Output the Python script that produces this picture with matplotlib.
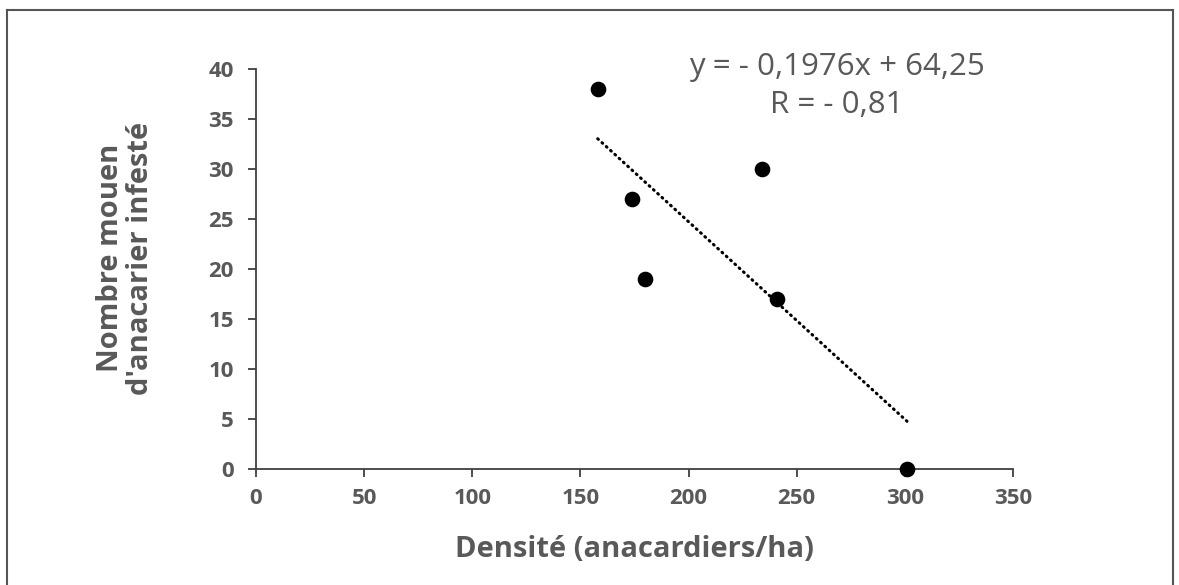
import numpy as np
import matplotlib.pyplot as plt
from matplotlib.lines import Line2D

# densité (anacardiers/ha) et nombre moyen d'anacardiers infestés
densite = [158, 174, 180, 234, 241, 301]
infestes = [38, 27, 19, 30, 17, 0]

# droite de tendance
pente = -0.1976
ordonnee = 64.25
equation = "y = - 0,1976x + 64,25"
correlation = "R = - 0,81"

x_ticks = [0, 50, 100, 150, 200, 250, 300, 350]
y_ticks = [0, 5, 10, 15, 20, 25, 30, 35, 40]

gris = '#595959'
plt.rcParams['font.family'] = ['Open Sans', 'DejaVu Sans']

W, H = 1179, 585
fig = plt.figure(figsize=(W / 100, H / 100), dpi=100)
ax = fig.add_axes([0.2171, 0.1983, 0.6421, 0.6837])

ax.scatter(densite, infestes, s=105, color='black', zorder=3, clip_on=False)

xt = np.array([min(densite), max(densite)])
ax.plot(xt, pente * xt + ordonnee, color='black', lw=2.2,
        linestyle=(0, (0.3, 1.6)), dash_capstyle='round', zorder=2)

fig.text(837 / W, 1 - 67 / H, equation, ha='center', va='center',
         fontsize=22.5, color=gris)
fig.text(837 / W, 1 - 105 / H, correlation, ha='center', va='center',
         fontsize=22.5, color=gris)

ax.set_xlim(0, 350)
ax.set_ylim(0, 40)
ax.set_xticks(x_ticks)
ax.set_yticks(y_ticks)
ax.tick_params(axis='both', direction='out', length=6, width=1.3,
               color='#404040', labelsize=16, labelcolor=gris)
ax.tick_params(axis='x', pad=8)
ax.tick_params(axis='y', pad=10)
for lbl in ax.get_xticklabels() + ax.get_yticklabels():
    lbl.set_fontweight('bold')

for side in ['top', 'right']:
    ax.spines[side].set_visible(False)
for side in ['left', 'bottom']:
    ax.spines[side].set_color('#404040')
    ax.spines[side].set_linewidth(1.3)

ax.set_xlabel("Densité (anacardiers/ha)", fontsize=21, fontweight='bold',
              color=gris)
ax.set_ylabel("Nombre mouen\nd'anacarier infesté", fontsize=21,
              fontweight='bold', color=gris, linespacing=1.05)
ax.xaxis.set_label_coords(0.5, -0.165)
ax.yaxis.set_label_coords(-0.172, 0.527)
ax.yaxis.label.set_va('center')

# cadre autour du graphique
cadre = dict(color='#555555', lw=1.5, transform=fig.transFigure)
fig.add_artist(Line2D([7 / W, 7 / W], [0, 1 - 10 / H], **cadre))
fig.add_artist(Line2D([7 / W, 1173 / W], [1 - 10 / H, 1 - 10 / H], **cadre))
fig.add_artist(Line2D([1173 / W, 1173 / W], [0, 1 - 10 / H], **cadre))

fig.savefig('out.png', dpi=100)
